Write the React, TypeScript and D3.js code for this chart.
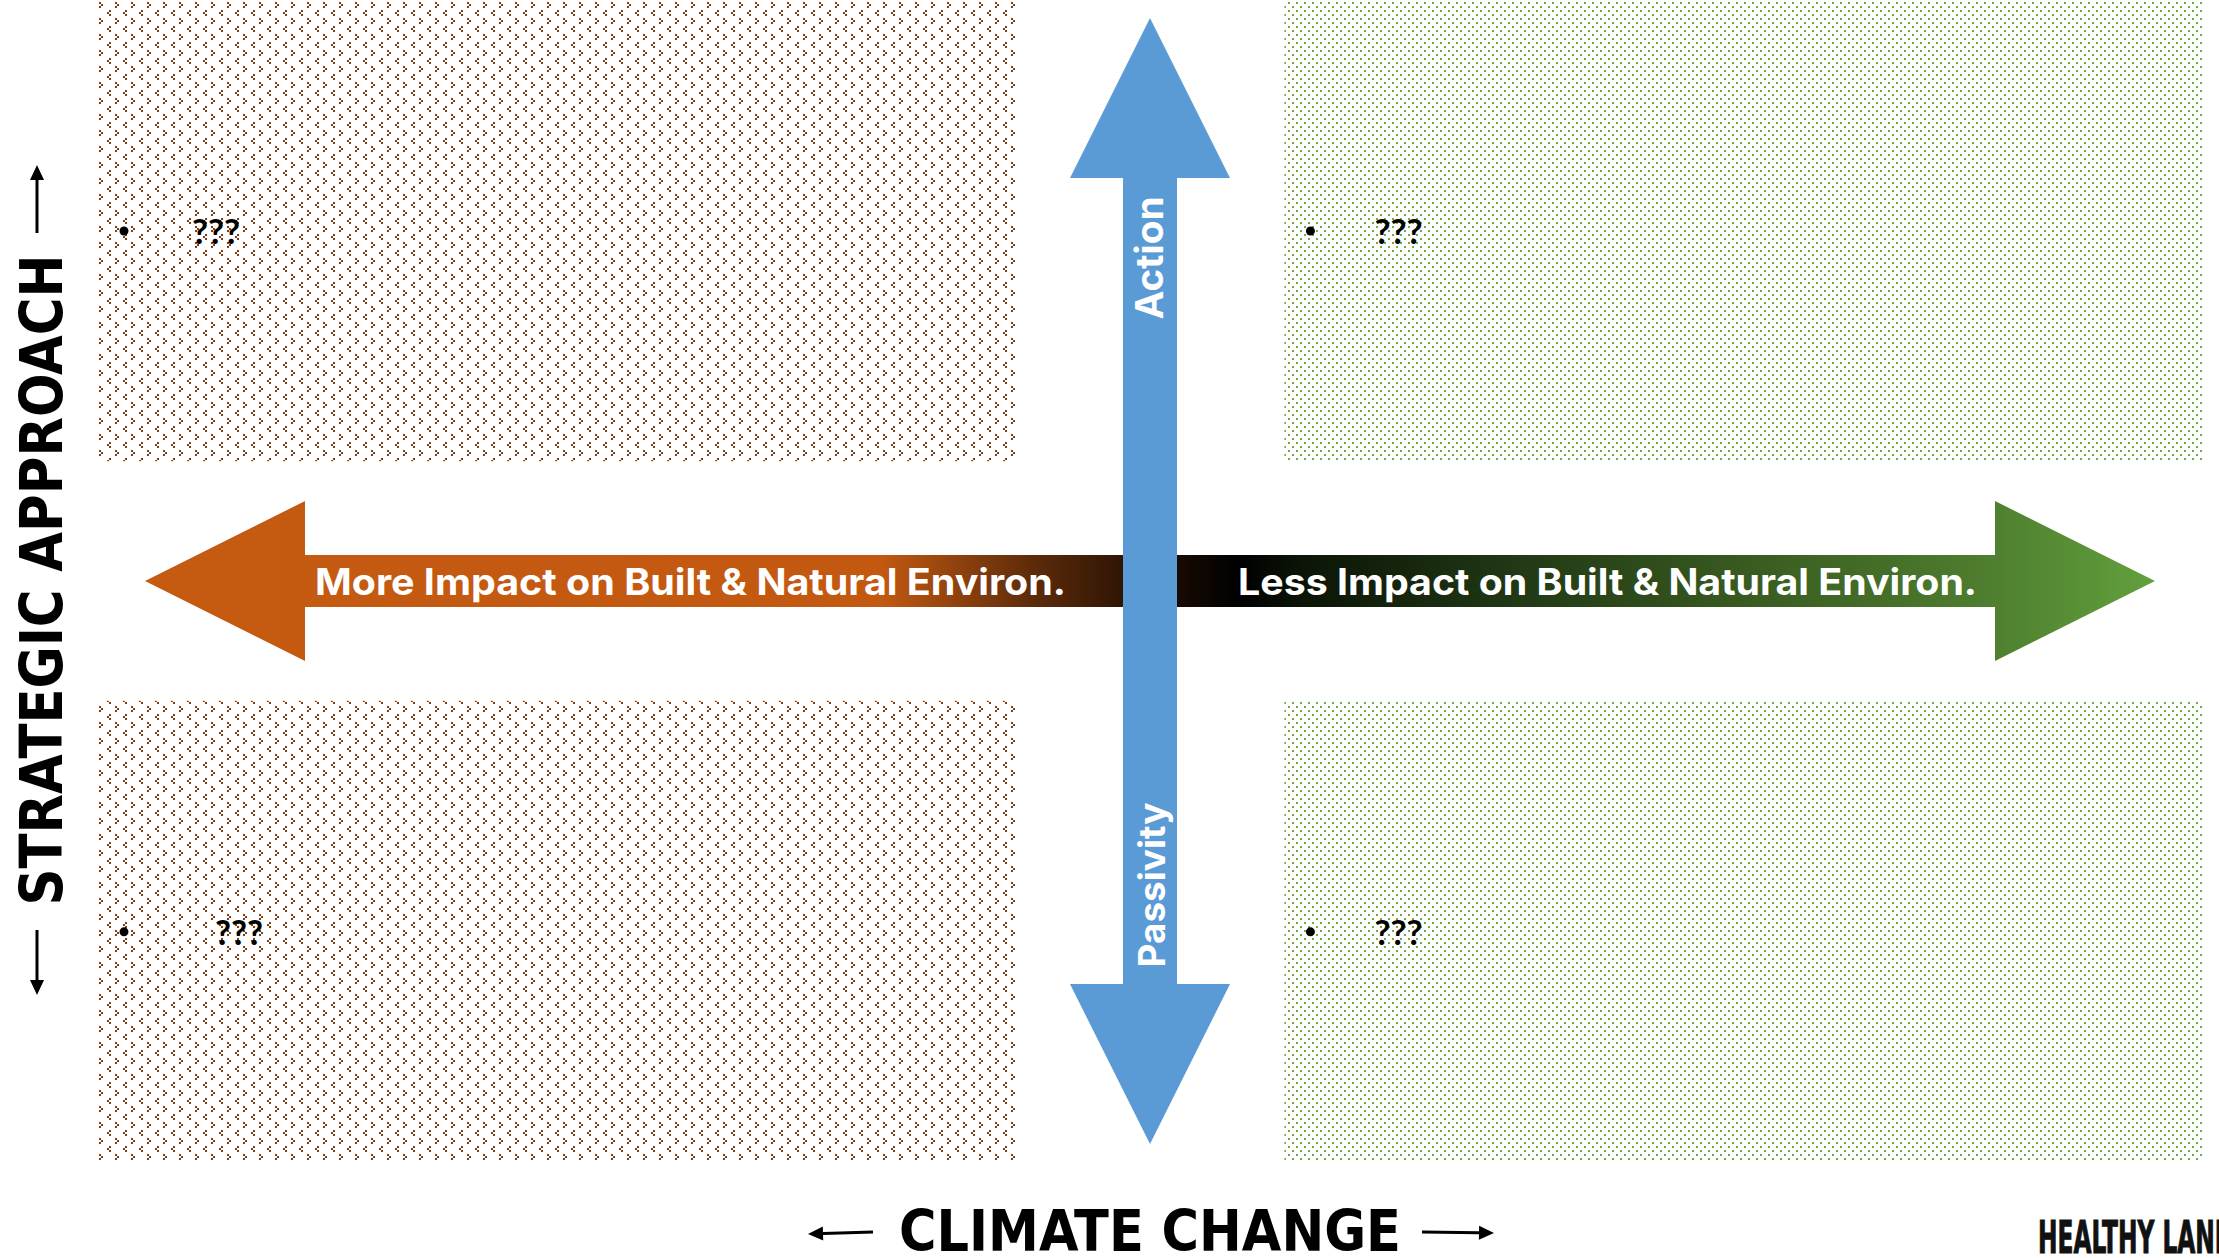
import * as d3 from 'd3';

// quadrant layout: columns = impact side, rows = strategic approach
const quadrantCols = ['more', 'less'];
const quadrantRows = ['action', 'passivity'];
// bullet text per quadrant: top-left, top-right, bottom-left, bottom-right
const bulletLabels = ['???', '???', '???', '???'];
const impactLabels = [
  'More Impact on Built & Natural Environ.',
  'Less Impact on Built & Natural Environ.',
];
const approachLabels = ['Action', 'Passivity'];
const axisTitles = ['STRATEGIC APPROACH', 'CLIMATE CHANGE'];
const brandText = ['HEALTHY LANDS'];

const WIDTH = 2219;
const HEIGHT = 1258;
const BLUE = '#5b9bd5';
const RED = '#843c0c';
const GREEN = '#70ad47';
const LABEL_INDENT = [94, 90, 117, 90];

const ARROW_FONT = "Inter, 'Open Sans', sans-serif";
const TITLE_FONT = "'Liberation Sans Narrow', 'DejaVu Sans Condensed', 'Liberation Sans', sans-serif";

export default function App() {
  const xBand = d3
    .scaleBand()
    .domain(quadrantCols)
    .range([98, 2202])
    .paddingInner(0.2266);
  const yBand = d3
    .scaleBand()
    .domain(quadrantRows)
    .range([0, 1162])
    .paddingInner(0.342);

  // centre of the cross sits in the gap between the quadrants
  const cx = ((xBand('more') ?? 0) + xBand.bandwidth() + (xBand('less') ?? 0)) / 2;
  const cy = ((yBand('action') ?? 0) + yBand.bandwidth() + (yBand('passivity') ?? 0)) / 2;

  // horizontal / vertical arrows in a -1..1 space around the centre
  const ax = d3.scaleLinear().domain([-1, 1]).range([cx - 1005, cx + 1005]);
  const ay = d3.scaleLinear().domain([-1, 1]).range([cy - 563, cy + 563]);

  const hHead = 160 / 1005;
  const hPath = d3.path();
  hPath.moveTo(ax(-1), cy);
  hPath.lineTo(ax(-1 + hHead), cy - 80);
  hPath.lineTo(ax(-1 + hHead), cy - 26);
  hPath.lineTo(ax(1 - hHead), cy - 26);
  hPath.lineTo(ax(1 - hHead), cy - 80);
  hPath.lineTo(ax(1), cy);
  hPath.lineTo(ax(1 - hHead), cy + 80);
  hPath.lineTo(ax(1 - hHead), cy + 26);
  hPath.lineTo(ax(-1 + hHead), cy + 26);
  hPath.lineTo(ax(-1 + hHead), cy + 80);
  hPath.closePath();

  const vHead = 160 / 563;
  const vPath = d3.path();
  vPath.moveTo(cx, ay(-1));
  vPath.lineTo(cx + 80, ay(-1 + vHead));
  vPath.lineTo(cx + 27, ay(-1 + vHead));
  vPath.lineTo(cx + 27, ay(1 - vHead));
  vPath.lineTo(cx + 80, ay(1 - vHead));
  vPath.lineTo(cx, ay(1));
  vPath.lineTo(cx - 80, ay(1 - vHead));
  vPath.lineTo(cx - 27, ay(1 - vHead));
  vPath.lineTo(cx - 27, ay(-1 + vHead));
  vPath.lineTo(cx - 80, ay(-1 + vHead));
  vPath.closePath();

  // gradient stops along the horizontal arrow (x as fraction of its length)
  const grad = d3.scaleLinear().domain([ax(-1), ax(1)]).range([0, 1]);
  const stops: [number, string][] = [
    [ax(-1), '#c55a11'],
    [880, '#c35911'],
    [1030, '#5e2c0a'],
    [1130, '#2c1304'],
    [1180, '#170a02'],
    [1240, '#000000'],
    [1300, '#0b1406'],
    [1500, '#1f3614'],
    [1720, '#36571f'],
    [1976, '#4d7c2e'],
    [ax(1), '#62a03d'],
  ];

  const quads = quadrantRows.flatMap((r) => quadrantCols.map((c) => ({ r, c })));

  const smallArrow = (x1: number, y1: number, x2: number, y2: number, key: string) => {
    const ang = Math.atan2(y2 - y1, x2 - x1);
    const len = 15;
    const hw = 7;
    const bx = x2 - Math.cos(ang) * len;
    const by = y2 - Math.sin(ang) * len;
    const px = -Math.sin(ang) * hw;
    const py = Math.cos(ang) * hw;
    return (
      <g key={key}>
        <line x1={x1} y1={y1} x2={bx} y2={by} stroke="#000" strokeWidth={3} />
        <path d={`M${x2},${y2}L${bx + px},${by + py}L${bx - px},${by - py}Z`} fill="#000" />
      </g>
    );
  };

  return (
    <svg
      width={WIDTH}
      height={HEIGHT}
      style={{ position: 'absolute', left: 0, top: 0, background: '#fff' }}
    >
      <defs>
        <pattern id="divot" patternUnits="userSpaceOnUse" width={16} height={16}>
          <g fill={RED} shapeRendering="crispEdges">
            {/* ">" mark */}
            <rect x={3} y={2} width={2} height={2} />
            <rect x={5} y={4} width={2} height={2} />
            <rect x={3} y={6} width={2} height={2} />
            {/* "<" mark */}
            <rect x={13} y={10} width={2} height={2} />
            <rect x={11} y={12} width={2} height={2} />
            <rect x={13} y={14} width={2} height={2} />
          </g>
        </pattern>
        <pattern id="dots" patternUnits="userSpaceOnUse" width={8} height={8}>
          <g fill={GREEN} shapeRendering="crispEdges">
            <rect x={4} y={6} width={2} height={2} />
            <rect x={0} y={2} width={2} height={2} />
          </g>
        </pattern>
        <linearGradient
          id="impact"
          gradientUnits="userSpaceOnUse"
          x1={ax(-1)}
          x2={ax(1)}
          y1={0}
          y2={0}
        >
          {stops.map(([x, col], i) => (
            <stop key={i} offset={grad(x)} stopColor={col} />
          ))}
        </linearGradient>
      </defs>

      {quads.map(({ r, c }, i) => {
        const x0 = xBand(c) ?? 0;
        const y0 = yBand(r) ?? 0;
        return (
          <g key={i}>
            <rect
              x={x0}
              y={y0}
              width={xBand.bandwidth()}
              height={yBand.bandwidth()}
              fill={c === 'more' ? 'url(#divot)' : 'url(#dots)'}
            />
            <circle cx={x0 + 26} cy={y0 + 231} r={4.5} fill="#000" />
            <text
              x={x0 + LABEL_INDENT[i]}
              y={y0 + 244}
              fontFamily="Lato, 'Open Sans', sans-serif"
              fontWeight={700}
              fontSize={34}
              textLength={48}
              lengthAdjust="spacingAndGlyphs"
              fill="#000"
            >
              {bulletLabels[i]}
            </text>
          </g>
        );
      })}

      <path d={hPath.toString()} fill="url(#impact)" />
      <text
        x={315}
        y={cy + 14}
        fontFamily={ARROW_FONT}
        fontWeight={700}
        fontSize={37}
        textLength={751}
        lengthAdjust="spacingAndGlyphs"
        fill="#fff"
      >
        {impactLabels[0]}
      </text>
      <text
        x={1238}
        y={cy + 14}
        fontFamily={ARROW_FONT}
        fontWeight={700}
        fontSize={37}
        textLength={739}
        lengthAdjust="spacingAndGlyphs"
        fill="#fff"
      >
        {impactLabels[1]}
      </text>

      <path d={vPath.toString()} fill={BLUE} />
      <text
        transform={`translate(${cx + 13},258) rotate(-90)`}
        textAnchor="middle"
        fontFamily={ARROW_FONT}
        fontWeight={700}
        fontSize={38}
        textLength={123}
        lengthAdjust="spacingAndGlyphs"
        fill="#fff"
      >
        {approachLabels[0]}
      </text>
      <text
        transform={`translate(${cx + 15},885) rotate(-90)`}
        textAnchor="middle"
        fontFamily={ARROW_FONT}
        fontWeight={700}
        fontSize={37}
        textLength={165}
        lengthAdjust="spacingAndGlyphs"
        fill="#fff"
      >
        {approachLabels[1]}
      </text>

      {/* y axis title */}
      <text
        transform="translate(62,580) rotate(-90)"
        textAnchor="middle"
        fontFamily={TITLE_FONT}
        fontWeight={700}
        fontSize={58}
        textLength={651}
        lengthAdjust="spacingAndGlyphs"
        fill="#000"
      >
        {axisTitles[0]}
      </text>
      {smallArrow(37, 233, 37, 165, 'up')}
      {smallArrow(37, 930, 37, 995, 'down')}

      {/* x axis title */}
      <text
        x={1150}
        y={1251}
        textAnchor="middle"
        fontFamily={TITLE_FONT}
        fontWeight={700}
        fontSize={57}
        textLength={502}
        lengthAdjust="spacingAndGlyphs"
        fill="#000"
      >
        {axisTitles[1]}
      </text>
      {smallArrow(873, 1232, 808, 1234, 'left')}
      {smallArrow(1422, 1232, 1494, 1233, 'right')}

      <text
        x={2038}
        y={1253}
        fontFamily={TITLE_FONT}
        fontWeight={700}
        fontSize={44}
        textLength={213}
        lengthAdjust="spacingAndGlyphs"
        fill="#111"
        stroke="#111"
        strokeWidth={1}
      >
        {brandText[0]}
      </text>
    </svg>
  );
}
